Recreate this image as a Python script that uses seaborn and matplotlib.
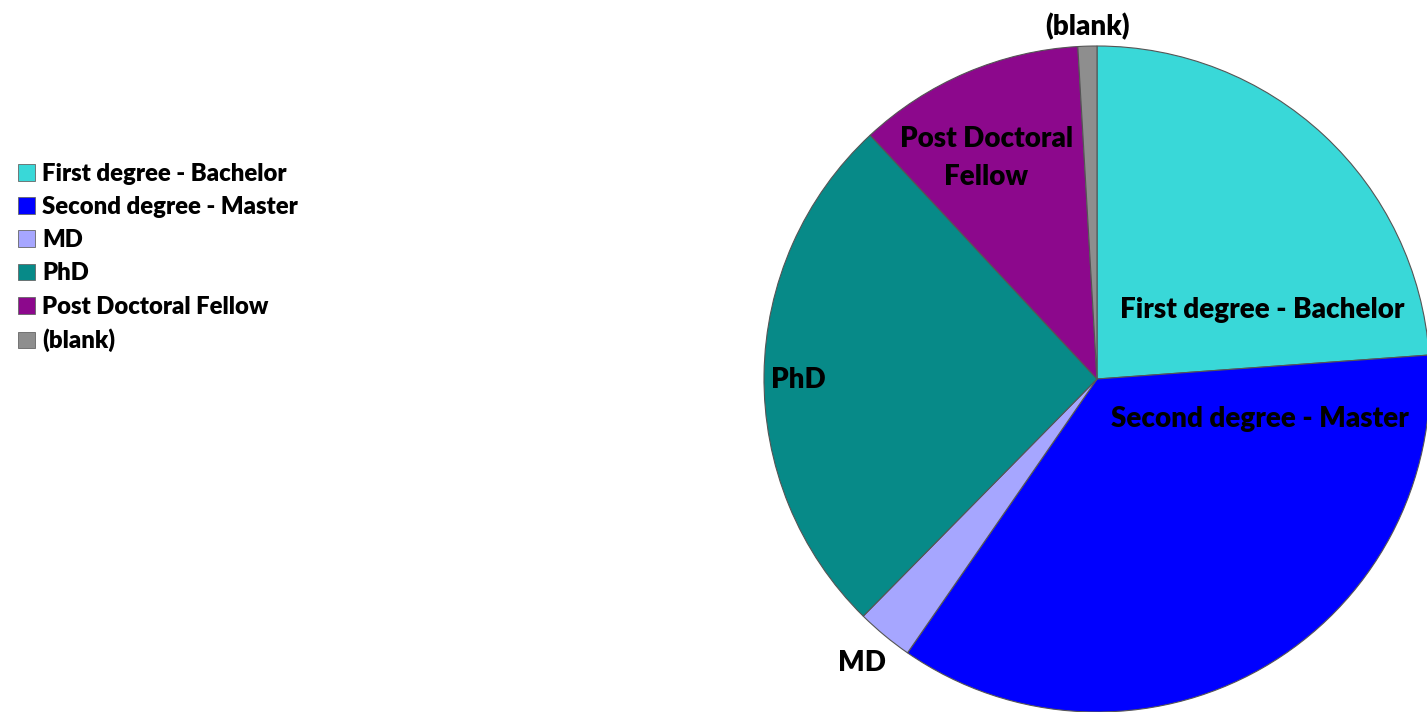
import matplotlib
matplotlib.use("Agg")
import matplotlib.pyplot as plt
import matplotlib.patches as mpatches
import seaborn as sns

# data
categories = ["First degree - Bachelor", "Second degree - Master", "MD",
              "PhD", "Post Doctoral Fellow", "(blank)"]
counts = [26, 39, 3, 28, 12, 1]
colors = ["#39D8D8", "#0000FF", "#A6A6FF", "#078A88", "#8C088C", "#8E8E8E"]
slice_labels = ["First degree - Bachelor", "Second degree - Master", "MD",
                "PhD", "Post Doctoral\nFellow", "(blank)"]

sns.set_theme(style="white")
plt.rcParams["font.family"] = ["Lato", "DejaVu Sans"]
plt.rcParams["text.color"] = "black"
palette = sns.color_palette(colors)

fig = plt.figure(figsize=(14.27, 7.12), dpi=100)
ax = fig.add_axes([764 / 1427, 0, 666 / 1427, 666 / 712])

wedges, _ = ax.pie(counts, colors=palette, startangle=90, counterclock=False,
                   radius=1, wedgeprops=dict(edgecolor="#555555", linewidth=0.8))
ax.set_xlim(-1, 1)
ax.set_ylim(-1, 1)
ax.set_aspect("equal")
ax.axis("off")

# label spots (axes data units, pie radius = 1)
label_pos = [(0.495, 0.207), (0.489, -0.120), (-0.706, -0.853),
             (-0.898, -0.003), (-0.333, 0.664), (-0.030, 1.057)]
for txt, (x, y) in zip(slice_labels, label_pos):
    ax.text(x, y, txt, ha="center", va="center", fontsize=20,
            fontweight="heavy", color="black", linespacing=1.6, clip_on=False)

handles = [mpatches.Patch(facecolor=c, edgecolor="#666666", linewidth=0.6)
           for c in palette]
leg = fig.legend(handles, categories, loc="upper left", bbox_to_anchor=(0.006, 0.785),
                 frameon=False, prop=dict(weight="heavy", size=17.2),
                 handlelength=0.7, handleheight=0.7, handletextpad=0.3,
                 labelspacing=0.47, borderaxespad=0)
for t in leg.get_texts():
    t.set_color("black")

fig.savefig("out.png", dpi=100)
